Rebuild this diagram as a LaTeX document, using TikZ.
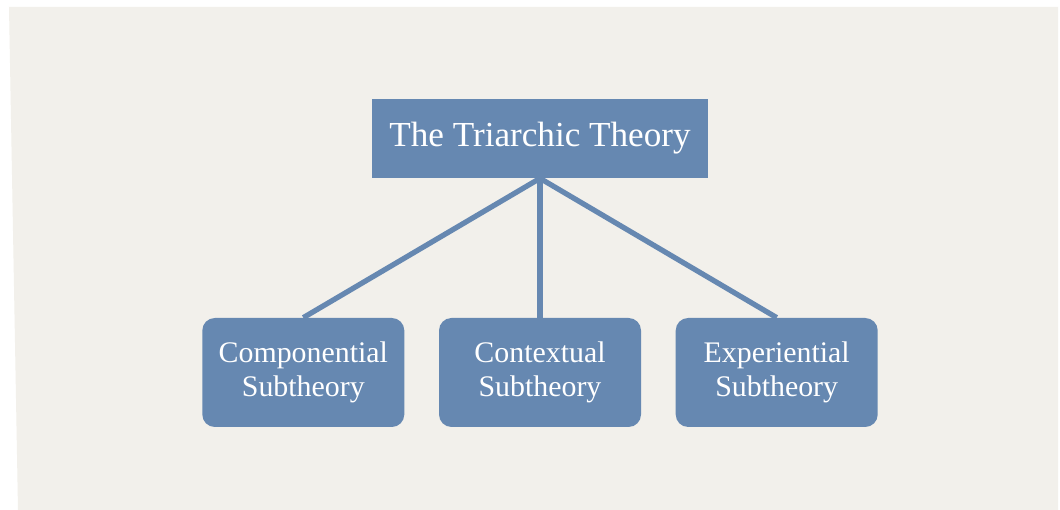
\documentclass[tikz,border=0pt]{standalone}
\usepackage{fontspec}
\setmainfont{Liberation Serif}
\usepackage{xcolor}
\usepackage{tikz}
\usetikzlibrary{positioning}
\definecolor{paper}{RGB}{242, 240, 235}
\definecolor{boxblue}{RGB}{102, 136, 177}

\begin{document}
\begin{tikzpicture}[
  theorybox/.style={fill=boxblue, draw=none, text=white, align=center, inner sep=0pt},
  subbox/.style={theorybox, rounded corners=0.25cm, minimum width=4.04cm, minimum height=2.18cm,
                 font=\fontsize{17}{19}\selectfont},
  branch/.style={draw=boxblue, line width=3pt}]
  % Page and paper
  \useasboundingbox (0,0) rectangle (21.2,10.2);
  \fill[white] (0,0) rectangle (21.2,10.2);
  \fill[paper] (0.36,0) -- (0.18,10.06) -- (21.16,10.06) -- (21.16,0) -- cycle;

  % Root
  \node[theorybox, minimum width=6.72cm, minimum height=1.58cm,
        font=\fontsize{20}{23}\selectfont] (root) at (10.8,7.43) {The Triarchic Theory};

  % Subtheories
  \node[subbox] (context) at (10.8,2.75) {Contextual\\Subtheory};
  \node[subbox, left=0.68cm of context] (compo) {Componential\\Subtheory};
  \node[subbox, right=0.68cm of context] (exper) {Experiential\\Subtheory};

  % Branches
  \draw[branch] (root.south) -- (compo.north);
  \draw[branch] (root.south) -- (context.north);
  \draw[branch] (root.south) -- (exper.north);
\end{tikzpicture}
\end{document}
